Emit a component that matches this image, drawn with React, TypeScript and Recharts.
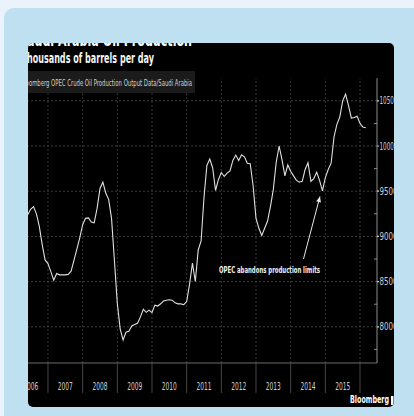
import React from 'react';
import { LineChart, Line, XAxis, YAxis, ReferenceLine } from 'recharts';

// Saudi Arabia crude output, thousand barrels per day, monthly
const firstYear = 2006;
const firstMonth = 5; // series opens in June 2006
const prod2006 = [9240, 9300, 9330, 9250, 9110, 8910, 8740];
const prod2007 = [8700, 8610, 8515, 8590, 8575, 8575, 8575, 8580, 8615, 8735, 8860, 8985];
const prod2008 = [9130, 9200, 9205, 9160, 9150, 9310, 9530, 9600, 9480, 9410, 9200, 8730];
const prod2009 = [8260, 7975, 7856, 7940, 7950, 8010, 8025, 8040, 8110, 8195, 8160, 8185];
const prod2010 = [8158, 8240, 8230, 8255, 8285, 8295, 8300, 8295, 8265, 8254, 8254, 8245];
const prod2011 = [8280, 8470, 8704, 8501, 8850, 8950, 9430, 9785, 9855, 9760, 9508, 9630];
const prod2012 = [9707, 9663, 9700, 9725, 9840, 9900, 9840, 9902, 9880, 9810, 9805, 9560];
const prod2013 = [9200, 9090, 9010, 9090, 9170, 9330, 9520, 9820, 10000, 9850, 9670, 9790];
const prod2014 = [9720, 9670, 9620, 9600, 9610, 9740, 9815, 9610, 9640, 9710, 9620, 9504];
const prod2015 = [9650, 9740, 9810, 10100, 10240, 10320, 10500, 10573, 10450, 10308, 10315, 10330];
const prod2016 = [10250, 10210, 10202];

const yearlySeries = [
  prod2006, prod2007, prod2008, prod2009, prod2010, prod2011,
  prod2012, prod2013, prod2014, prod2015, prod2016,
];

// Axis ticks
const yearBoundaries = [2007, 2008, 2009, 2010, 2011, 2012, 2013, 2014, 2015, 2016];
const yearLabels = [2006, 2007, 2008, 2009, 2010, 2011, 2012, 2013, 2014, 2015];
const levelTicks = [8000, 8500, 9000, 9500, 10000, 10500];
const minorLevelTicks = [7750, 8250, 8750, 9250, 9750, 10250];

// Annotation
const noteText = 'OPEC abandons production limits';
const noteFrom = { x: 2014.37, y: 8750 };
const noteTo = { x: 2014.845, y: 9441 };

const chartData: { t: number; v: number }[] = [];
yearlySeries.forEach((vals, i) => {
  vals.forEach((v, j) => {
    const month = (i === 0 ? firstMonth : 0) + j;
    chartData.push({ t: firstYear + i + month / 12, v });
  });
});

const xTicks = [...yearBoundaries, ...yearLabels.map((y) => y + 0.5)].sort((a, b) => a - b);
const yTicks = [...levelTicks, ...minorLevelTicks].sort((a, b) => a - b);

const NARROW = "'Liberation Sans Narrow', 'DejaVu Sans Condensed', 'Liberation Sans', Arial, sans-serif";

const YearTick = (props: any) => {
  const { x, y, payload } = props;
  const v = payload.value as number;
  if (Number.isInteger(v)) {
    return <line x1={x} x2={x} y1={y} y2={y + 30} stroke="#474747" strokeWidth={1} />;
  }
  return (
    <text
      x={x}
      y={y + 27}
      textAnchor="middle"
      fill="#cfcfcf"
      fontSize={11}
      fontFamily={NARROW}
      textLength={15}
      lengthAdjust="spacingAndGlyphs"
    >
      {Math.floor(v)}
    </text>
  );
};

const LevelTick = (props: any) => {
  const { x, y, payload } = props;
  const v = payload.value as number;
  if (v % 500 !== 0) {
    return <line x1={x - 3} x2={x} y1={y} y2={y} stroke="#8a8a8a" strokeWidth={1} />;
  }
  return (
    <g>
      <line x1={x} x2={x + 2} y1={y} y2={y} stroke="#cfcfcf" strokeWidth={1.2} />
      <text
        x={x + 2.5}
        y={y}
        dy="0.36em"
        fill="#cfcfcf"
        fontSize={10}
        fontFamily={NARROW}
        textLength={18}
        lengthAdjust="spacingAndGlyphs"
      >
        {v}
      </text>
    </g>
  );
};

const ArrowNote = (props: any) => {
  const { x1, y1, x2, y2 } = props;
  const ang = Math.atan2(y2 - y1, x2 - x1);
  const head = 6;
  const spread = 0.42;
  const hx1 = x2 - head * Math.cos(ang - spread);
  const hy1 = y2 - head * Math.sin(ang - spread);
  const hx2 = x2 - head * Math.cos(ang + spread);
  const hy2 = y2 - head * Math.sin(ang + spread);
  return (
    <g>
      <line x1={x1} y1={y1} x2={x2} y2={y2} stroke="#e8e8e8" strokeWidth={1} />
      <polygon points={`${x2},${y2} ${hx1},${hy1} ${hx2},${hy2}`} fill="#e8e8e8" />
      <text
        x={x1 - 84.5}
        y={y1 + 14}
        fill="#f2f2f2"
        fontSize={8.5}
        fontWeight={700}
        fontFamily={NARROW}
        textLength={101}
        lengthAdjust="spacingAndGlyphs"
      >
        {noteText}
      </text>
    </g>
  );
};

export default function App() {
  return (
    <div
      style={{
        position: 'absolute',
        left: 0,
        top: 0,
        width: 414,
        height: 416,
        overflow: 'hidden',
        background: '#eaf3fb',
      }}
    >
      <div
        style={{
          position: 'absolute',
          left: 4,
          top: 8,
          width: 430,
          height: 430,
          background: '#bee0f0',
          borderTopLeftRadius: 10,
        }}
      />
      <div
        style={{
          position: 'absolute',
          left: 28,
          top: 43,
          width: 366,
          height: 364,
          overflow: 'hidden',
          background: '#000',
          borderRadius: 5,
        }}
      >
        <div style={{ position: 'absolute', left: -28, top: -43 }}>
          <LineChart
            width={394}
            height={407}
            data={chartData}
            margin={{ top: 78.2, right: 0, left: 13.3, bottom: 0 }}
          >
            <XAxis
              type="number"
              dataKey="t"
              domain={[2006, 2016.49]}
              allowDataOverflow
              ticks={xTicks}
              interval={0}
              tick={<YearTick />}
              tickLine={false}
              tickSize={0}
              tickMargin={0}
              height={44}
              axisLine={{ stroke: '#6c6c6c', strokeWidth: 1 }}
            />
            <YAxis
              type="number"
              orientation="right"
              domain={[7600, 10750]}
              allowDataOverflow
              ticks={yTicks}
              interval={0}
              tick={<LevelTick />}
              tickLine={false}
              tickSize={0}
              tickMargin={0}
              width={17}
              axisLine={{ stroke: '#8c8c8c', strokeWidth: 1 }}
            />
            {yearBoundaries.map((yr) => (
              <ReferenceLine
                key={`vx-${yr}`}
                x={yr}
                stroke="#363636"
                strokeDasharray="2 2"
                strokeWidth={1}
              />
            ))}
            {levelTicks.map((lv) => (
              <ReferenceLine
                key={`hy-${lv}`}
                y={lv}
                stroke="#3e3e3e"
                strokeDasharray="2 2"
                strokeWidth={1}
              />
            ))}
            <Line
              type="linear"
              dataKey="v"
              stroke="#e0e0e0"
              strokeWidth={1.1}
              dot={false}
              isAnimationActive={false}
            />
            <ReferenceLine segment={[noteFrom, noteTo]} shape={ArrowNote} />
          </LineChart>
        </div>
        <svg
          width={414}
          height={416}
          style={{ position: 'absolute', left: -28, top: -43, pointerEvents: 'none' }}
        >
          <text
            x={19}
            y={45.8}
            fill="#ffffff"
            fontSize={17}
            fontWeight={700}
            fontFamily={NARROW}
            textLength={173}
            lengthAdjust="spacingAndGlyphs"
          >
            Saudi Arabia Oil Production
          </text>
          <text
            x={21.5}
            y={63.3}
            fill="#f4f4f4"
            fontSize={14.5}
            fontWeight={600}
            fontFamily={NARROW}
            textLength={132.5}
            lengthAdjust="spacingAndGlyphs"
          >
            Thousands of barrels per day
          </text>
          <rect x={13} y={71} width={182} height={22} fill="#1b1b1b" />
          <text
            x={20.5}
            y={86}
            fill="#d2d2d2"
            fontSize={8.5}
            fontFamily={NARROW}
            textLength={171.5}
            lengthAdjust="spacingAndGlyphs"
          >
            Bloomberg OPEC Crude Oil Production Output Data/Saudi Arabia
          </text>
          <text
            x={350}
            y={402.5}
            fill="#ffffff"
            fontSize={11}
            fontWeight={700}
            fontFamily={NARROW}
            textLength={39}
            lengthAdjust="spacingAndGlyphs"
          >
            Bloomberg
          </text>
          <rect x={391} y={396} width={2.5} height={9} fill="#ffffff" />
        </svg>
      </div>
    </div>
  );
}
